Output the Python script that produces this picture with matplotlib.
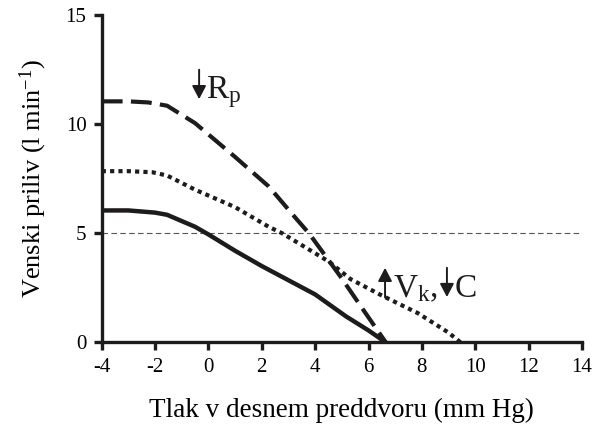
import matplotlib
matplotlib.use("Agg")
import matplotlib.pyplot as plt

plt.rcParams['font.family'] = ['Liberation Serif', 'DejaVu Serif']
plt.rcParams['mathtext.fontset'] = 'custom'
plt.rcParams['mathtext.rm'] = 'Liberation Serif'
plt.rcParams['mathtext.it'] = 'Liberation Serif:italic'
plt.rcParams['axes.unicode_minus'] = False

# Venous return curves
# solid: normal
normal_x = [-4.0, -3.0, -2.0, -1.55, -0.5, 0.0, 1.0, 2.0, 3.0, 4.0, 5.15, 6.0, 6.65]
normal_y = [6.05, 6.05, 5.95, 5.85, 5.3, 4.95, 4.2, 3.5, 2.85, 2.2, 1.2, 0.55, 0.0]
# dashed: lower resistance
rp_x = [-4.0, -3.0, -2.25, -1.55, -0.5, 1.0, 2.26, 3.27, 3.77, 4.96, 5.8, 6.65]
rp_y = [11.05, 11.05, 11.0, 10.85, 10.05, 8.5, 7.15, 5.7, 5.0, 3.0, 1.5, 0.0]
# dotted: higher volume, lower compliance
vk_x = [-4.0, -3.0, -2.1, -1.55, -0.5, 1.0, 2.26, 2.77, 4.52, 5.33, 6.5, 7.84, 9.0, 9.45]
vk_y = [7.85, 7.85, 7.8, 7.65, 7.0, 6.2, 5.3, 5.0, 3.7, 2.9, 2.15, 1.35, 0.45, 0.0]

ref_level = 5
x_ticks = [-4, -2, 0, 2, 4, 6, 8, 10, 12, 14]
y_ticks = [0, 5, 10, 15]

ink = '#1e1b1c'

fig = plt.figure(figsize=(5.95, 4.34), dpi=100)
ax = fig.add_axes([0.171, 0.211, 0.807, 0.754])

ax.axhline(ref_level, color='#555555', lw=0.8, ls=(0, (5, 3)), zorder=1)
ax.plot(normal_x, normal_y, color=ink, lw=3.2, solid_capstyle='butt', zorder=3)
ax.plot(rp_x, rp_y, color=ink, lw=3.0, ls=(0, (5.0, 2.0)), zorder=3)
ax.plot(vk_x, vk_y, color=ink, lw=3.0, ls=(0, (1.0, 1.0)), zorder=3)

ax.set_xlim(-4, 14)
ax.set_ylim(0, 15)
ax.set_xticks(x_ticks)
ax.set_yticks(y_ticks)
ax.tick_params(direction='out', length=6, width=2.4, labelsize=15, pad=5, color=ink)

for side in ['top', 'right']:
    ax.spines[side].set_visible(False)
for side in ['left', 'bottom']:
    ax.spines[side].set_linewidth(2.4)
    ax.spines[side].set_color(ink)

ax.set_xlabel('Tlak v desnem preddvoru (mm Hg)', fontsize=19.5, labelpad=15)
ax.set_ylabel('Venski priliv (l min$^{-1}$)', fontsize=19, labelpad=12)


def small_arrow(x, y_from, y_to):
    # thin shaft with a filled head, like the arrow glyphs in the labels
    ax.annotate('', xy=(x, y_to), xytext=(x, y_from),
                arrowprops=dict(arrowstyle='-|>,head_length=0.8,head_width=0.42',
                                mutation_scale=10, lw=1.4, color=ink,
                                shrinkA=0, shrinkB=0))


label_kw = dict(fontsize=24, ha='left', va='baseline', color=ink)

small_arrow(-0.35, 12.5, 11.15)
ax.text(-0.08, 11.2, 'R$_\\mathrm{p}$', **label_kw)

small_arrow(6.62, 2.06, 3.42)
ax.text(6.9, 2.06, 'V$_\\mathrm{k}$,', **label_kw)
small_arrow(8.94, 3.42, 2.08)
ax.text(9.22, 2.06, 'C', **label_kw)

fig.savefig('out.png', dpi=100)
